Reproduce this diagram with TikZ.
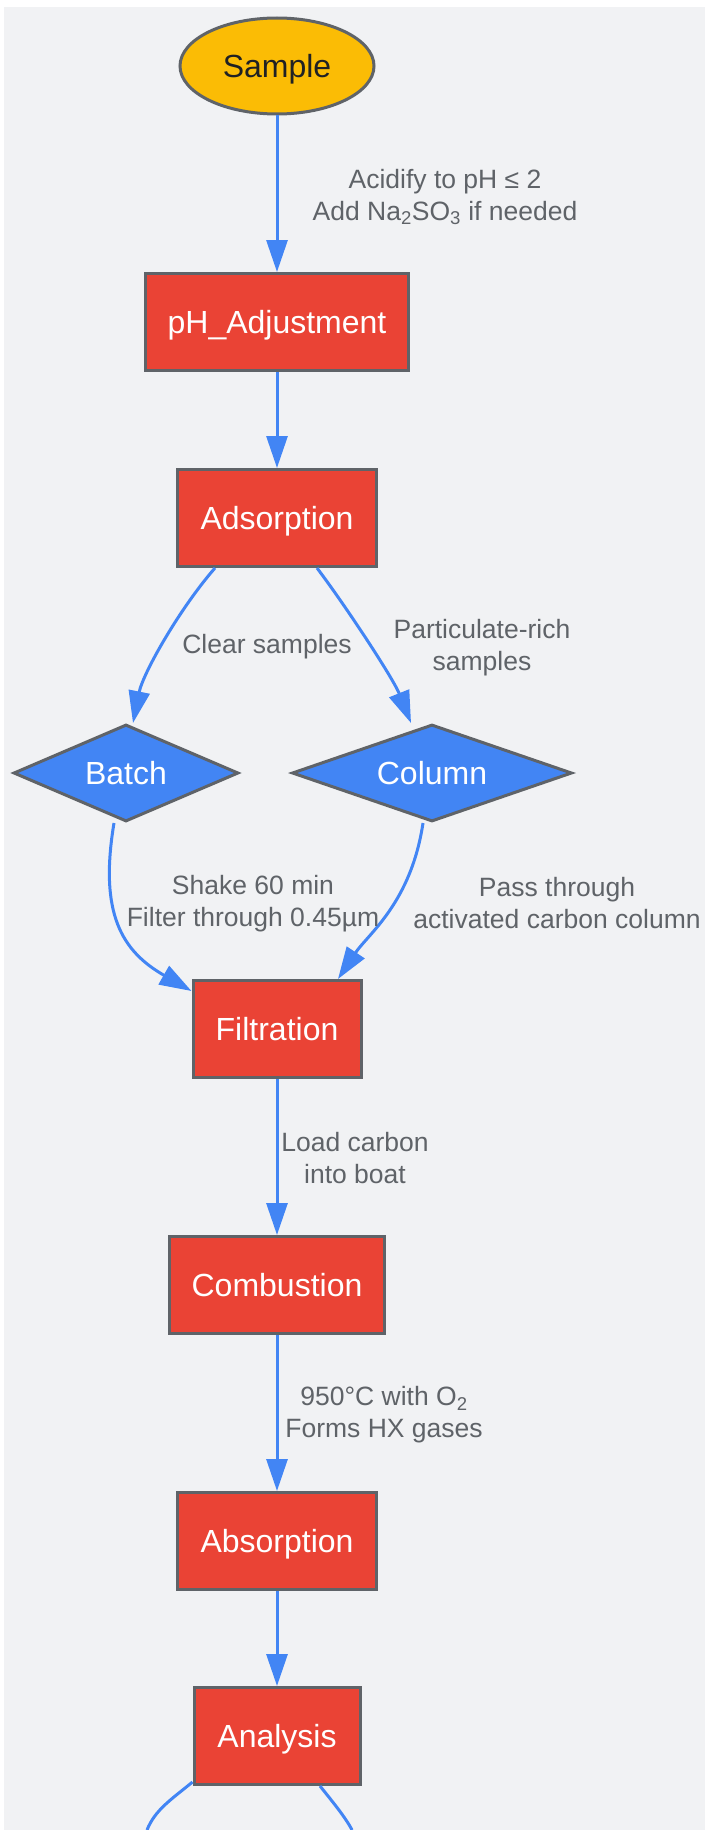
\documentclass[tikz,border=0pt]{standalone}
\usepackage{fontspec}
\setmainfont{Liberation Sans}
\usepackage{xcolor}
\usepackage{tikz}
\usetikzlibrary{positioning,shapes.geometric,arrows.meta}

\definecolor{paper}{HTML}{F1F2F4}
\definecolor{stepred}{HTML}{EA4335}
\definecolor{pathblue}{HTML}{4285F4}
\definecolor{sampleyellow}{HTML}{FBBC05}
\definecolor{rimgrey}{HTML}{5F6368}
\definecolor{inkdark}{HTML}{202124}

\tikzset{
  nodefont/.style={font=\fontsize{32}{38}\selectfont, text height=23pt, text depth=0pt},
  samplenode/.style={ellipse, draw=rimgrey, line width=3pt, fill=sampleyellow,
    text=inkdark, nodefont, inner sep=0pt, minimum width=194pt, minimum height=96pt},
  stepbox/.style={rectangle, draw=rimgrey, line width=3pt, fill=stepred,
    text=white, nodefont, inner sep=0pt, minimum height=97pt},
  decision/.style={diamond, draw=rimgrey, line width=3pt, fill=pathblue,
    text=white, nodefont, inner sep=0pt, aspect=2.9, minimum height=97pt},
  edgeline/.style={draw=pathblue, line width=3pt,
    -{Triangle[length=32pt,width=21pt]}},
  edgelabel/.style={text=rimgrey, font=\fontsize{26.5}{32}\selectfont,
    align=center, inner sep=0pt}
}

\begin{document}
\begin{tikzpicture}[x=1pt,y=-1pt]
    % Background
    \useasboundingbox (0,0) rectangle (705,1830);
    \fill[paper] (4,7) rectangle (705,1830);
    % Nodes
    \node[samplenode] (sample) at (277,66) {Sample};
    \node[stepbox, minimum width=263pt] (phadj) at (277,322) {pH\_Adjustment};
    \node[stepbox, minimum width=199pt] (ads) at (277,518) {Adsorption};
    \node[decision, minimum width=225pt] (batch) at (126,773) {Batch};
    \node[decision, minimum width=280pt] (col) at (432,773) {Column};
    \node[stepbox, minimum width=168pt] (filt) at (277,1029) {Filtration};
    \node[stepbox, minimum width=215pt] (comb) at (277,1285) {Combustion};
    \node[stepbox, minimum width=199pt] (abs) at (277,1541) {Absorption};
    \node[stepbox, minimum width=166pt] (ana) at (277,1736) {Analysis};
    \coordinate (outleft) at (147,1830);
    \coordinate (outright) at (352,1830);
    % Edges
    \draw[edgeline] (sample) -- (phadj);
    \draw[edgeline] (phadj) -- (ads);
    \draw[edgeline] ([xshift=-62pt]ads.south) .. controls +(-35,40) and +(10,-50) .. ([xshift=7pt]batch.north);
    \draw[edgeline] ([xshift=40pt]ads.south) .. controls +(28,37) and +(-18,-45) .. ([xshift=-21pt]col.north);
    \draw[edgeline] ([xshift=-12pt]batch.south) .. controls +(-15,90) and +(-70,-40) .. ([yshift=-12pt]filt.north west);
    \draw[edgeline] ([xshift=-9pt]col.south) .. controls +(-12,80) and +(30,-45) .. ([xshift=61pt]filt.north);
    \draw[edgeline] (filt) -- (comb);
    \draw[edgeline] (comb) -- (abs);
    \draw[edgeline] (abs) -- (ana);
    \draw[draw=pathblue, line width=3pt] ([yshift=4pt]ana.south west) .. controls +(-22,18) and +(8,-20) .. (outleft);
    \draw[draw=pathblue, line width=3pt] ([xshift=43pt]ana.south) .. controls +(12,15) and +(-6,-12) .. (outright);
    % Edge labels
    \node[edgelabel] (lblacid) at (445,197) {Acidify to pH ≤ 2\\Add Na\textsubscript{2}SO\textsubscript{3} if needed};
    \node[edgelabel] (lblclear) at (267,647) {Clear samples};
    \node[edgelabel] (lblpart) at (482,648) {Particulate-rich\\samples};
    \node[edgelabel] (lblshake) at (253,904) {Shake 60 min\\Filter through 0.45µm};
    \node[edgelabel] (lblpass) at (557,903) {Pass through\\activated carbon column};
    \node[edgelabel] (lblload) at (355,1158) {Load carbon\\into boat};
    \node[edgelabel] (lblheat) at (384,1415) {950°C with O\textsubscript{2}\\Forms HX gases};
  \end{tikzpicture}
\end{document}
